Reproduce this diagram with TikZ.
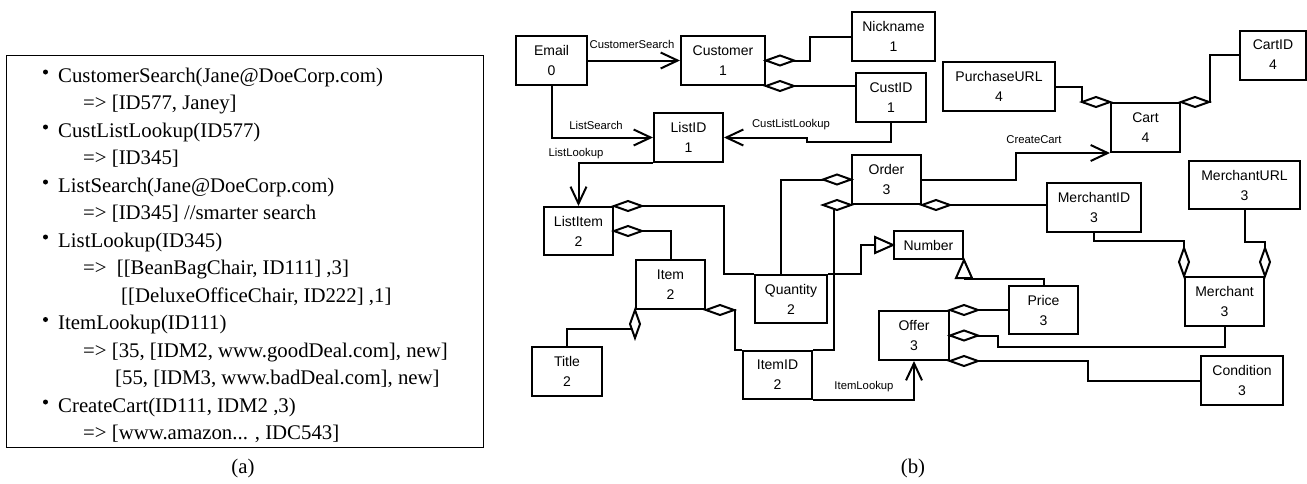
\documentclass[tikz,border=0pt]{standalone}
\usepackage{fontspec}
\setmainfont{Liberation Serif}
\newfontfamily\arialf{Liberation Sans}
\usetikzlibrary{arrows.meta,calc}
\tikzset{
  box/.style={draw, line width=2pt, inner sep=0pt, align=center, fill=white,
    font=\arialf\fontsize{14}{20}\selectfont, minimum height=49pt},
  conn/.style={line width=2pt},
  arr/.style={conn, -{Straight Barb[length=17pt,width=16pt]}},
  lbl/.style={font=\arialf\fontsize{11.3}{13}\selectfont, inner sep=0pt},
  lt/.style={font=\fontsize{20.8}{24}\selectfont, inner sep=0pt, anchor=base west},
  bul/.style={circle, fill=black, inner sep=0pt, minimum size=5pt},
  captext/.style={font=\fontsize{20.8}{24}\selectfont, inner sep=0pt, anchor=base},
  agg/.pic={\draw[line width=2pt, fill=white, line join=miter] (0,0) -- (-14,5) -- (-28,0) -- (-14,-5) -- cycle;},
  gen/.pic={\draw[line width=2pt, fill=white, line join=miter] (0,0) -- (-18,8) -- (-18,-8) -- cycle;},
}
\begin{document}
\begin{tikzpicture}[x=1pt,y=-1pt]
\useasboundingbox (0,0) rectangle (1307,483);

% ---------- (a) ----------
\node[draw, line width=1pt, minimum width=477pt, minimum height=392pt, inner sep=0pt] (panel) at (244.5,251) {};
\node[lt] (t0) at (58,82) {CustomerSearch(Jane@DoeCorp.com)};
\node[lt] (t1) at (83,109.5) {=> [ID577, Janey]};
\node[lt] (t2) at (58,137) {CustListLookup(ID577)};
\node[lt] (t3) at (83,164.5) {=> [ID345]};
\node[lt] (t4) at (58,192) {ListSearch(Jane@DoeCorp.com)};
\node[lt] (t5) at (83,219.5) {=> [ID345] //smarter search};
\node[lt] (t6) at (58,247) {ListLookup(ID345)};
\node[lt] (t7) at (83,274.5) {=>\hspace{5pt} [[BeanBagChair, ID111] ,3]};
\node[lt] (t8) at (121,302) {[[DeluxeOfficeChair, ID222] ,1]};
\node[lt] (t9) at (58,329.5) {ItemLookup(ID111)};
\node[lt] (t10) at (83,357) {=> [35, [IDM2, www.goodDeal.com], new]};
\node[lt] (t11) at (115,384.5) {[55, [IDM3, www.badDeal.com], new]};
\node[lt] (t12) at (58,412) {CreateCart(ID111, IDM2 ,3)};
\node[lt] (t13) at (83,439.5) {=> [www.amazon... , IDC543]};
\node[bul] (b0) at (45.5,72) {};
\node[bul] (b1) at (45.5,127) {};
\node[bul] (b2) at (45.5,182) {};
\node[bul] (b3) at (45.5,237) {};
\node[bul] (b4) at (45.5,319.5) {};
\node[bul] (b5) at (45.5,402) {};
\node[captext] (capa) at (243,473) {(a)};
\node[captext] (capb) at (913,473) {(b)};

% ---------- (b) nodes ----------
\node[box, minimum width=71pt] (Email) at (551.5,60.5) {Email\\0};
\node[box, minimum width=84pt] (Customer) at (723,60.5) {Customer\\1};
\node[box, minimum width=83pt] (Nickname) at (893.5,36.5) {Nickname\\1};
\node[box, minimum width=70pt] (CustID) at (891,97.5) {CustID\\1};
\node[box, minimum width=112pt] (PurchaseURL) at (999,86.5) {PurchaseURL\\4};
\node[box, minimum width=69pt] (Cart) at (1145.5,127.5) {Cart\\4};
\node[box, minimum width=66pt] (CartID) at (1273,55) {CartID\\4};
\node[box, minimum width=69pt] (ListID) at (688.5,137.5) {ListID\\1};
\node[box, minimum width=69pt, minimum height=48pt] (ListItem) at (578.5,231) {ListItem\\2};
\node[box, minimum width=69pt] (Item) at (670.5,284.5) {Item\\2};
\node[box, minimum width=72pt, minimum height=48pt] (Quantity) at (791,299) {Quantity\\2};
\node[box, minimum width=69pt] (Order) at (886.5,179.5) {Order\\3};
\node[box, minimum width=69pt, minimum height=28pt] (Number) at (928.5,245) {Number};
\node[box, minimum width=94pt] (MerchantID) at (1094,207.5) {MerchantID\\3};
\node[box, minimum width=111pt, minimum height=48pt] (MerchantURL) at (1244.5,185) {MerchantURL\\3};
\node[box, minimum width=79pt] (Merchant) at (1224.5,301.5) {Merchant\\3};
\node[box, minimum width=69pt, minimum height=48pt] (Price) at (1043.5,310) {Price\\3};
\node[box, minimum width=70pt] (Offer) at (914,335.5) {Offer\\3};
\node[box, minimum width=82pt] (Condition) at (1242,380.5) {Condition\\3};
\node[box, minimum width=70pt] (Title) at (567,371.5) {Title\\2};
\node[box, minimum width=69pt, minimum height=48pt] (ItemID) at (777.5,375) {ItemID\\2};

% ---------- connectors ----------
\draw[arr] (Email.east) -- (Customer.west);
\draw[arr] (Email.south) |- (ListID.west);
\draw[arr] (ListID.south west) -| (ListItem.north);
\draw[arr] (CustID.south) |- (807,142) |- (ListID.east);
\draw[arr] (Order.east) -- (1016,179.5) |- (Cart.south west);
\draw[arr] (ItemID.south east) -| (Offer.south);

\draw[conn] (Customer.east) -- ++(44,0) |- (Nickname.west);
\draw[conn] (Customer.south east) -- (CustID.west |- Customer.south east);
\draw[conn] (PurchaseURL.east) -| ([xshift=-28pt]Cart.north west) -- (Cart.north west);
\draw[conn] (Cart.north east) -| ([xshift=29pt]Cart.north east |- CartID.west) -- (CartID.west);
\draw[conn] (Order.south east) -- (MerchantID.west |- Order.south east);
\draw[conn] (Order.west) -| ([xshift=27pt]Quantity.north west);
\draw[conn] (Order.south west) -| ([xshift=21pt]ItemID.north east) -- (ItemID.north east);
\draw[conn] (ListItem.north east) -| ([xshift=-30pt]Quantity.north west) -- (Quantity.north west);
\draw[conn] (Quantity.north east) -- ++(33,0) |- (Number.west);
\draw[conn] (ListItem.east) -| (Item.north);
\draw[conn] (Title.north) |- ([yshift=-19pt]Item.south west);
\draw[conn] (Item.south east) -| ([xshift=-7pt]ItemID.north west) -- (ItemID.north west);
\draw[conn] ([yshift=-19pt]Number.south east) -| (Price.north);
\draw[conn] (Offer.north east) -- (Price.west |- Offer.north east);
\draw[conn] (Offer.east) -- ++(48,0) -- ++(0,11) -| (Merchant.south);
\draw[conn] (Offer.south east) -- ++(138,0) |- (Condition.west);
\draw[conn] (MerchantID.south) |- ([yshift=35pt]Merchant.north west) -- (Merchant.north west);
\draw[conn] (MerchantURL.south) |- ([yshift=34pt]Merchant.north east) -- (Merchant.north east);

% ---------- aggregation diamonds ----------
\pic[rotate=180] at (Customer.east) {agg};
\pic[rotate=180] at (Customer.south east) {agg};
\pic at (Cart.north west) {agg};
\pic[rotate=180] at (Cart.north east) {agg};
\pic at (Order.west) {agg};
\pic at (Order.south west) {agg};
\pic[rotate=180] at (Order.south east) {agg};
\pic[rotate=180] at (ListItem.north east) {agg};
\pic[rotate=180] at (ListItem.east) {agg};
\pic[rotate=90] at (Item.south west) {agg};
\pic[rotate=180] at (Item.south east) {agg};
\pic[rotate=180] at (Offer.north east) {agg};
\pic[rotate=180] at (Offer.east) {agg};
\pic[rotate=180] at (Offer.south east) {agg};
\pic[rotate=-90] at (Merchant.north west) {agg};
\pic[rotate=-90] at (Merchant.north east) {agg};
% generalization triangles
\pic at (Number.west) {gen};
\pic[rotate=90] at (Number.south east) {gen};

% ---------- labels ----------
\node[lbl] (lCS) at (632,44) {CustomerSearch};
\node[lbl] (lLS) at (596,125) {ListSearch};
\node[lbl] (lLL) at (576,154) {ListLookup};
\node[lbl] (lCLL) at (791,125) {CustListLookup};
\node[lbl] (lCC) at (1034,140) {CreateCart};
\node[lbl] (lIL) at (864,387) {ItemLookup};
\end{tikzpicture}
\end{document}
